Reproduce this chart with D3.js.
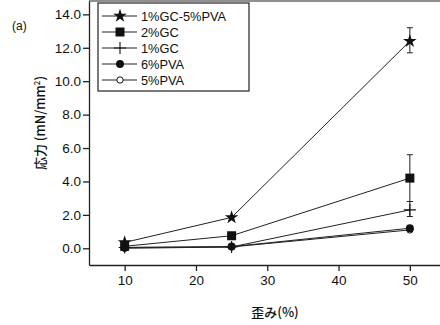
<!DOCTYPE html>
<meta charset="utf-8">
<script src="https://cdn.jsdelivr.net/npm/d3@7"></script>
<style>
body { margin: 0; background: #fff; }
text { font-family: "Liberation Sans", Arial, sans-serif; fill: #111; }
.cjk { font-family: "Noto Sans CJK JP", sans-serif; }
</style>
<body>
<script>
// data
var strain = [10, 25, 50];
var seriesNames = ["1%GC-5%PVA", "2%GC", "1%GC", "6%PVA", "5%PVA"];
var gc1pva5 = [0.35, 1.85, 12.4];
var gc2 = [0.12, 0.75, 4.2];
var gc1 = [0.05, 0.08, 2.3];
var pva6 = [0.05, 0.1, 1.2];
var pva5 = [0.0, 0.08, 1.1];
// error bars at 50%: [low, high]
var errGc1pva5 = [null, null, [11.7, 13.2]];
var errGc2 = [null, null, [2.8, 5.6]];
var errGc1 = [null, null, [1.9, 2.8]];
var yTicks = [0, 2, 4, 6, 8, 10, 12, 14];
var xTicks = [10, 20, 30, 40, 50];

var width = 440, height = 325;
var margin = {top: 1, left: 89, bottom: 60};

var svg = d3.select("body").append("svg")
    .attr("width", width)
    .attr("height", height);

var x = d3.scaleLinear().domain([5, 55]).range([margin.left, margin.left + 356.5]);
var y = d3.scaleLinear().domain([-1, 14.8]).range([height - margin.bottom, margin.top]);

var series = [
  {name: seriesNames[0], v: gc1pva5, err: errGc1pva5, sym: "star"},
  {name: seriesNames[1], v: gc2, err: errGc2, sym: "square"},
  {name: seriesNames[2], v: gc1, err: errGc1, sym: "plus"},
  {name: seriesNames[3], v: pva6, err: null, sym: "dot"},
  {name: seriesNames[4], v: pva5, err: null, sym: "circle"}
];

// frame
svg.append("line")
    .attr("x1", x(5)).attr("x2", x(55))
    .attr("y1", y(14.8)).attr("y2", y(14.8))
    .attr("stroke", "#222").attr("stroke-width", 1.2);

var yAxis = d3.axisLeft(y).tickValues(yTicks).tickSize(6).tickSizeOuter(0)
    .tickFormat(d3.format(".1f"));
var xAxis = d3.axisBottom(x).tickValues(xTicks).tickSize(6).tickSizeOuter(0);

var gy = svg.append("g")
    .attr("transform", "translate(" + margin.left + ",0)")
    .call(yAxis);
var gx = svg.append("g")
    .attr("transform", "translate(0," + (height - margin.bottom) + ")")
    .call(xAxis);

[gx, gy].forEach(function(g) {
  g.selectAll("path, line").attr("stroke", "#222").attr("stroke-width", 1.3);
  g.selectAll("text").style("font-size", "13.5px").attr("fill", "#111")
    .style("font-family", "Liberation Sans, Arial, sans-serif");
});
gy.selectAll("text").attr("x", -8);
gx.selectAll("text").attr("y", 10);

function symbolAt(g, sym, cx, cy) {
  if (sym == "star") {
    g.append("path").attr("d", d3.symbol().type(d3.symbolStar).size(58)())
      .attr("transform", "translate(" + cx + "," + cy + ")").attr("fill", "#111");
  } else if (sym == "square") {
    g.append("rect").attr("x", cx - 4.5).attr("y", cy - 4.5)
      .attr("width", 9).attr("height", 9).attr("fill", "#111");
  } else if (sym == "plus") {
    g.append("path").attr("d", "M" + (cx - 6) + "," + cy + "H" + (cx + 6) + "M" + cx + "," + (cy - 6) + "V" + (cy + 6))
      .attr("stroke", "#111").attr("stroke-width", 1.1).attr("fill", "none");
  } else if (sym == "dot") {
    g.append("circle").attr("cx", cx).attr("cy", cy).attr("r", 4).attr("fill", "#111");
  } else {
    g.append("circle").attr("cx", cx).attr("cy", cy).attr("r", 3.2)
      .attr("fill", "#fff").attr("stroke", "#111").attr("stroke-width", 1);
  }
}

var line = d3.line()
    .x(function(d, i) { return x(strain[i]); })
    .y(function(d) { return y(d); });

var plot = svg.append("g");
series.slice().reverse().forEach(function(s) {
  plot.append("path")
      .datum(s.v)
      .attr("d", line)
      .attr("fill", "none")
      .attr("stroke", "#222")
      .attr("stroke-width", 1);
  if (s.err) {
    s.err.forEach(function(e, i) {
      if (!e) return;
      var cx = x(strain[i]);
      plot.append("line").attr("x1", cx).attr("x2", cx)
        .attr("y1", y(e[0])).attr("y2", y(e[1]))
        .attr("stroke", "#222").attr("stroke-width", 1);
      e.forEach(function(ev) {
        plot.append("line").attr("x1", cx - 3).attr("x2", cx + 3)
          .attr("y1", y(ev)).attr("y2", y(ev))
          .attr("stroke", "#222").attr("stroke-width", 1);
      });
    });
  }
  s.v.forEach(function(d, i) { symbolAt(plot, s.sym, x(strain[i]), y(d)); });
});

// legend
var lg = svg.append("g");
lg.append("rect")
    .attr("x", 98).attr("y", 3).attr("width", 151).attr("height", 88)
    .attr("fill", "#fff").attr("stroke", "#222").attr("stroke-width", 1.2);
series.forEach(function(s, i) {
  var ly = 16 + i * 16;
  lg.append("line").attr("x1", 102).attr("x2", 137).attr("y1", ly).attr("y2", ly)
    .attr("stroke", "#222").attr("stroke-width", 1);
  symbolAt(lg, s.sym, 120, ly);
  lg.append("text").attr("x", 141).attr("y", ly + 5)
    .style("font-size", "12.8px").text(s.name);
});

// titles
svg.append("text")
    .attr("x", 12).attr("y", 30)
    .style("font-size", "12px")
    .text("(a)");

svg.append("text")
    .attr("class", "cjk")
    .attr("transform", "translate(45,123) rotate(-90)")
    .style("text-anchor", "middle")
    .style("font-size", "13px")
    .style("font-weight", "500")
    .html('応力 (mN/mm<tspan baseline-shift="super" font-size="8px">2</tspan>)');

svg.append("text")
    .attr("class", "cjk")
    .attr("x", 275).attr("y", 317)
    .style("text-anchor", "middle")
    .style("font-size", "13px")
    .style("font-weight", "500")
    .text("歪み(%)");
</script>
</body>
</html>
